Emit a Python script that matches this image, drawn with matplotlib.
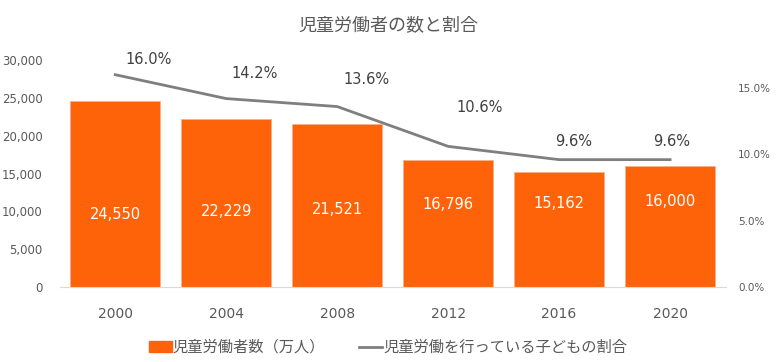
import matplotlib
matplotlib.use("Agg")
import matplotlib.pyplot as plt
from matplotlib.ticker import FuncFormatter

plt.rcParams['font.family'] = ['Noto Sans CJK JP', 'DejaVu Sans']

years = ["2000", "2004", "2008", "2012", "2016", "2020"]
workers = [24550, 22229, 21521, 16796, 15162, 16000]
ratio = [0.160, 0.142, 0.136, 0.106, 0.096, 0.096]

title = "児童労働者の数と割合"
bar_label = "児童労働者数（万人）"
line_label = "児童労働を行っている子どもの割合"

bar_color = "#FF6309"
line_color = "#7F7F7F"
text_color = "#595959"
num_font = ['DejaVu Sans']

# label placement (manually placed in the original)
label_dx = [33, 28, 29, 31, 15, 2]
label_dy = [15, 25, 27, 39, 18, 18]
bar_text_y = [9650, 10040, 10310, 10970, 11100, 11370]

fig = plt.figure(figsize=(7.76, 3.62), dpi=100)
ax = fig.add_axes([0.077, 0.207, 0.858, 0.627])
ax2 = ax.twinx()

x = list(range(len(years)))
bars = ax.bar(x, workers, width=0.81, color=bar_color, edgecolor="#F9B08A",
              linewidth=0.6, zorder=2)
ax.set_xlim(-0.5, len(years) - 0.5)
ax.set_ylim(0, 30000)
ax.set_yticks(range(0, 30001, 5000))
ax.yaxis.set_major_formatter(FuncFormatter(lambda v, p: f"{int(v):,}"))
ax.set_xticks(x)
ax.set_xticklabels(years)

for b, v, ty in zip(bars, workers, bar_text_y):
    ax.text(b.get_x() + b.get_width() / 2, ty, f"{v:,}", ha="center",
            va="center", color="white", fontsize=10.5, family=num_font)

ax2.plot(x, ratio, color=line_color, linewidth=2, zorder=3)
ax2.set_ylim(0, 0.171)
ax2.set_yticks([0, 0.05, 0.10, 0.15])
ax2.yaxis.set_major_formatter(FuncFormatter(lambda v, p: f"{v * 100:.1f}%"))

for i, r in enumerate(ratio):
    ax2.annotate(f"{r * 100:.1f}%", (x[i], r), xytext=(label_dx[i], label_dy[i]),
                 textcoords="offset pixels", ha="center", va="center",
                 color="#404040", fontsize=10.5, family=num_font)

for a in (ax, ax2):
    for s in a.spines.values():
        s.set_visible(False)
    a.tick_params(length=0, colors=text_color)
ax.spines["bottom"].set_visible(True)
ax.spines["bottom"].set_color("#D9D9D9")
ax.tick_params(axis="x", labelsize=10, pad=14)
ax.tick_params(axis="y", labelsize=8.5, pad=12.5)
ax2.tick_params(axis="y", labelsize=7.5, pad=9)
for lbl in ax.get_xticklabels() + ax.get_yticklabels() + ax2.get_yticklabels():
    lbl.set_family(num_font)

fig.text(0.5, 0.93, title, ha="center", va="center", fontsize=13,
         color=text_color)

h1 = plt.Rectangle((0, 0), 1, 1, color=bar_color)
h2 = plt.Line2D([0], [0], color=line_color, linewidth=2)
fig.legend([h1, h2], [bar_label, line_label], loc="center",
           bbox_to_anchor=(0.5, 0.04), ncol=2, frameon=False, fontsize=11,
           labelcolor=text_color, handlelength=1.5, handletextpad=0.07,
           columnspacing=2.2)

fig.savefig("out.png", dpi=100)
